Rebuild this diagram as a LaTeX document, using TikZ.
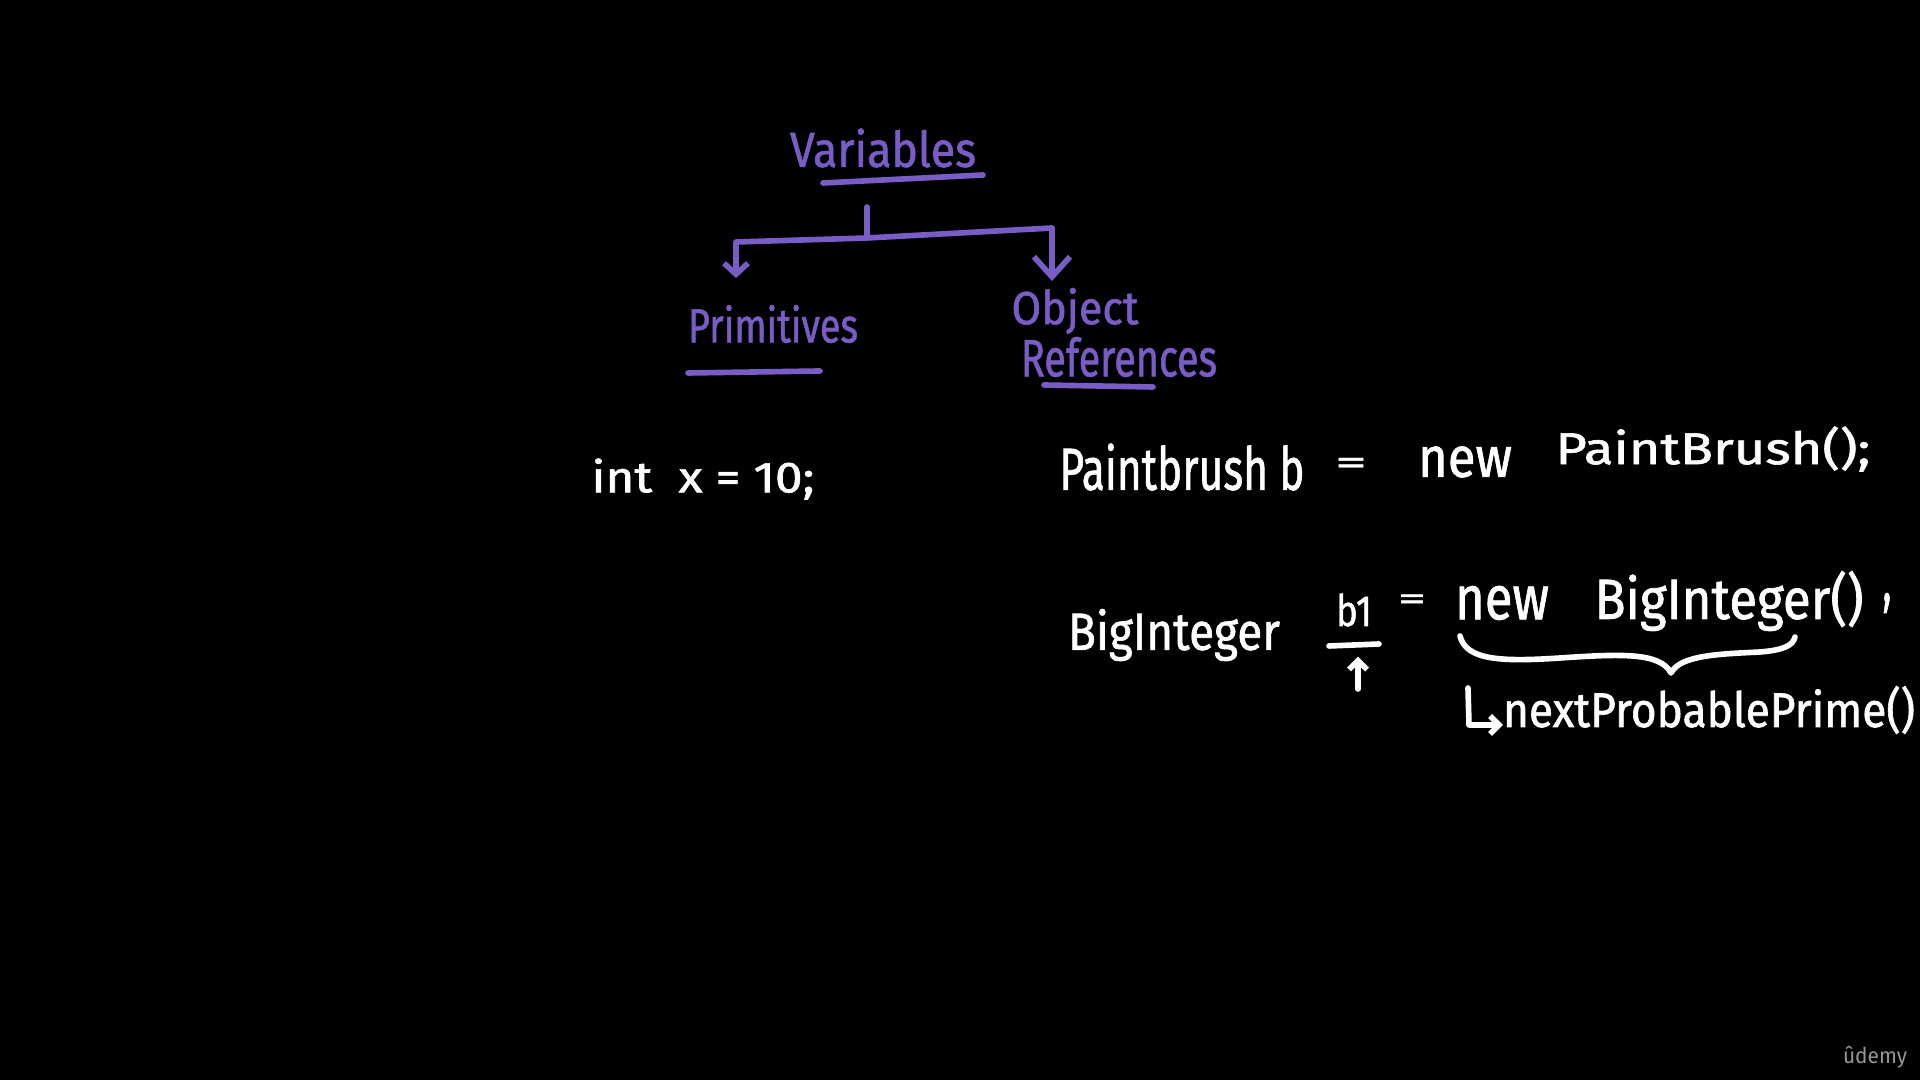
\documentclass[tikz,border=0pt]{standalone}
\usepackage{fontspec}
\setmainfont{Fira Sans}[FakeBold=1.3]
\newfontfamily\logofont{Fira Sans}
\usetikzlibrary{arrows.meta}
\definecolor{vio}{RGB}{122,92,198}
\definecolor{logogray}{RGB}{150,150,150}
\newlength\pxu
\setlength\pxu{0.01cm}
\newcommand\fitt[3]{\resizebox*{#1\pxu}{#2\pxu}{#3}}
\begin{document}
\begin{tikzpicture}[x=0.01cm,y=-0.01cm,
  txt/.style={inner sep=0pt, outer sep=0pt, text=white},
  ptxt/.style={inner sep=0pt, outer sep=0pt, text=vio},
  pline/.style={draw=vio, line width=1.6pt, line cap=round, line join=round},
  wline/.style={draw=white, line width=1.6pt, line cap=round, line join=round},
  bigbarb/.style={-{Straight Barb[length=0.2cm,width=0.36cm]}},
  smallbarb/.style={-{Straight Barb[length=0.11cm,width=0.24cm]}},
  tinybarb/.style={-{Straight Barb[length=0.09cm,width=0.18cm]}}]
\fill[black] (0,0) rectangle (1920,1080);
\useasboundingbox (0,0) rectangle (1920,1080);

% ---- tree ----
\node[ptxt] (var) at (883,148) {\fitt{186}{39}{Variables}};
\draw[pline] (823,183) -- (983,175);
\node[ptxt] (prim) at (773,324) {\fitt{170}{38}{Primitives}};
\draw[pline] (688,373) -- (820,371);
\node[ptxt] (obj) at (1075,311) {\fitt{127}{46}{Object}};
\node[ptxt] (refs) at (1119,357) {\fitt{196}{40}{References}};
\draw[pline] (1044,385) -- (1153,387);

\coordinate (stemtop) at (867,207);
\coordinate (junc) at (867,238);
\coordinate (lc) at (736,242);
\coordinate (rc) at (1052,228);
\draw[pline] (stemtop) -- (junc);
\draw[pline, smallbarb, shorten >=0.27cm] (junc) -- (lc) -- (lc |- prim.north);
\draw[pline, bigbarb, shorten >=0.07cm] (junc) -- (rc) -- (rc |- obj.north);

% ---- code lines ----
\node[txt] (intx) at (703,479) {\fitt{223}{41}{int~~x = 10;}};

\node[txt] (pb) at (1182,467) {\fitt{245}{47}{Paintbrush b}};
\node[txt] (eq1) at (1351,466) {\fitt{32}{16}{=}};
\node[txt] (new1) at (1465,462) {\fitt{94}{31}{new}};
\node[txt] (pbr) at (1713,449) {\fitt{315}{45}{PaintBrush();}};

\node[txt] (bi) at (1174,635) {\fitt{212}{52}{BigInteger}};
\node[txt] (b1) at (1354,610) {\fitt{36}{33}{b1}};
\draw[wline] (1329,646) -- (1379,644);
\coordinate (upfoot) at (1358,689);
\draw[wline, tinybarb] (upfoot) -- (upfoot |- b1.south) [shorten >=0.3cm];
\node[txt] (eq2) at (1412,602) {\fitt{28}{15}{=}};
\node[txt] (new2) at (1502,603) {\fitt{94}{34}{new}};
\node[txt] (bi2) at (1729,601) {\fitt{269}{60}{BigInteger()}};
\node[txt] (comma) at (1887,603) {\fitt{9}{20}{,}};

% brace under "new BigInteger()"
\draw[wline] (1460,636) .. controls (1466,660) and (1500,662) .. (1560,658)
  .. controls (1620,654) and (1660,652) .. (1671,673)
  .. controls (1680,655) and (1720,654) .. (1760,652)
  .. controls (1785,650) and (1793,645) .. (1795,637);

\node[txt] (np) at (1709,710) {\fitt{412}{48}{nextProbablePrime()}};
\coordinate (hooktop) at (1468,688);
\coordinate (hookcorner) at (1469,725);
\draw[wline, tinybarb] (hooktop) -- (hookcorner) -- (np.west |- hookcorner);

% logo
\node[inner sep=0pt, text=logogray] (logo) at (1875,1057) {\fitt{64}{22}{\logofont ûdemy}};
\end{tikzpicture}
\end{document}
